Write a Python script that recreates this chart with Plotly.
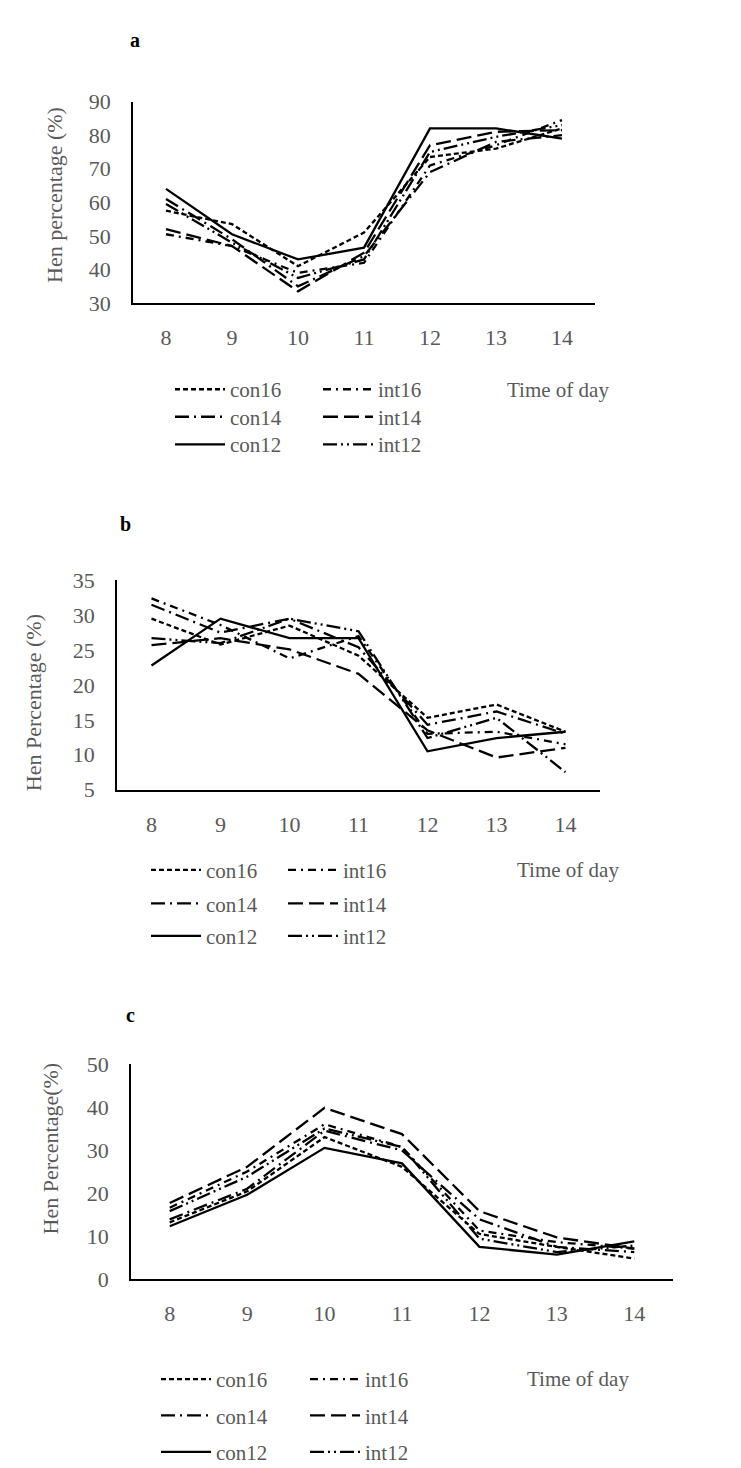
import plotly.graph_objects as go

W, H = 741, 1468

hours = [8, 9, 10, 11, 12, 13, 14]
series_names = ["con16", "int16", "con14", "int14", "con12", "int12"]

# Panel a
a_con16 = [57.5, 53.5, 41.0, 51.0, 73.5, 76.0, 82.0]
a_int16 = [50.5, 47.0, 39.0, 42.0, 71.0, 77.0, 84.5]
a_con14 = [61.0, 49.0, 35.0, 44.0, 69.0, 78.0, 80.0]
a_int14 = [52.0, 47.0, 33.5, 45.0, 77.0, 81.0, 81.5]
a_con12 = [64.0, 50.5, 43.0, 46.5, 82.0, 82.0, 79.0]
a_int12 = [59.5, 48.0, 37.5, 43.0, 75.0, 79.5, 83.0]

# Panel b
b_con16 = [29.5, 25.8, 28.5, 24.2, 15.3, 17.2, 13.3]
b_int16 = [32.4, 28.6, 23.8, 27.0, 13.0, 13.3, 11.5]
b_con14 = [31.5, 27.5, 29.5, 25.4, 14.3, 16.2, 13.0]
b_int14 = [25.7, 26.7, 25.1, 21.6, 13.5, 9.6, 11.0]
b_con12 = [22.8, 29.5, 26.7, 26.7, 10.5, 12.4, 13.3]
b_int12 = [26.7, 26.0, 29.5, 27.7, 12.4, 15.3, 7.5]

# Panel c
c_con16 = [13.2, 20.4, 33.0, 26.1, 10.5, 7.5, 4.8]
c_int16 = [16.6, 25.0, 36.0, 30.7, 11.3, 8.6, 7.1]
c_con14 = [13.9, 21.0, 34.5, 29.9, 13.9, 7.5, 6.3]
c_int14 = [17.7, 26.1, 39.8, 33.7, 15.8, 9.7, 7.1]
c_con12 = [12.3, 19.6, 30.5, 26.9, 7.5, 5.7, 8.8]
c_int12 = [15.8, 23.8, 35.0, 30.7, 9.4, 6.3, 7.8]

panels = {
    "a": [a_con16, a_int16, a_con14, a_int14, a_con12, a_int12],
    "b": [b_con16, b_int16, b_con14, b_int14, b_con12, b_int12],
    "c": [c_con16, c_int16, c_con14, c_int14, c_con12, c_int12],
}

y_ranges = {"a": [30, 90, 10], "b": [5, 35, 5], "c": [0, 50, 10]}
y_titles = {"a": "Hen percentage (%)", "b": "Hen Percentage (%)", "c": "Hen Percentage(%)"}

# ---- styling / layout (pixel geometry) ----
dashes = {
    "con16": "5px,3px",
    "int16": "8px,5px,2px,5px",
    "con14": "14px,5px,2px,5px",
    "int14": "15px,6px",
    "con12": "solid",
    "int12": "14px,4px,2px,4px,2px,4px",
}
FONT = "Liberation Serif, Times New Roman, serif"
GRAY = "#595959"

geom = {
    # x0, x1, ytop, ybottom of plot area
    "a": dict(x0=125, x1=587, yt=83, yb=288),
    "b": dict(x0=109, x1=592, yt=570, yb=783),
    "c": dict(x0=123, x1=665, yt=1062, yb=1281),
}
letters = {"a": (127, 20), "b": (117, 513), "c": (122, 1012)}
ytitle_pos = {"a": (47, 178), "b": (25, 695), "c": (42, 1148)}
legend_geom = {
    # col1 line start, col2 line start, rows y
    "a": dict(c1=167, c2=315, rows=[376, 404, 432]),
    "b": dict(c1=143, c2=280, rows=[865, 899, 932]),
    "c": dict(c1=153, c2=302, rows=[1383, 1420, 1457]),
}
timeofday_pos = {"a": (497, 376), "b": (507, 865), "c": (517, 1383)}


def fx(px):
    return px / W


def fy(py):
    return 1 - py / H


fig = go.Figure()
layout = dict(
    width=W, height=H, autosize=False,
    margin=dict(l=0, r=0, t=0, b=0),
    paper_bgcolor="white", plot_bgcolor="white",
    showlegend=True,
    font=dict(family=FONT, color=GRAY, size=21),
    annotations=[],
)

leg_idx = 0
for i, key in enumerate(["a", "b", "c"]):
    g = geom[key]
    suffix = "" if i == 0 else str(i + 1)
    xa, ya = "x" + suffix, "y" + suffix
    lo, hi, dt = y_ranges[key]
    layout["xaxis" + suffix] = dict(
        domain=[fx(g["x0"]), fx(g["x1"])], anchor=ya,
        range=[7.5, 14.5], tickvals=hours, ticktext=[str(h) for h in hours],
        showline=True, linecolor="black", linewidth=1.5, mirror=False,
        showgrid=False, zeroline=False, ticks="",
        tickfont=dict(family=FONT, size=22, color=GRAY),
        ticklabelstandoff=14, fixedrange=True,
    )
    layout["yaxis" + suffix] = dict(
        domain=[fy(g["yb"]), fy(g["yt"])], anchor=xa,
        range=[lo, hi], dtick=dt, tick0=lo,
        showline=True, linecolor="black", linewidth=1.5,
        showgrid=False, zeroline=False, ticks="",
        tickfont=dict(family=FONT, size=22, color=GRAY),
        ticklabelstandoff=16, fixedrange=True,
    )
    lg = legend_geom[key]
    for j, name in enumerate(series_names):
        leg_idx += 1
        lname = "legend" if leg_idx == 1 else "legend" + str(leg_idx)
        col = j % 2
        row = j // 2
        lx = lg["c1"] if col == 0 else lg["c2"]
        ly = lg["rows"][row]
        layout[lname] = dict(
            x=fx(lx - 5), y=fy(ly), xanchor="left", yanchor="middle",
            bgcolor="rgba(0,0,0,0)", borderwidth=0,
            font=dict(family=FONT, size=21, color=GRAY),
            itemwidth=50, itemclick=False, itemdoubleclick=False,
            tracegroupgap=0,
        )
        fig.add_trace(go.Scatter(
            x=hours, y=panels[key][j], name=name, mode="lines",
            line=dict(color="black", width=2.3, dash=dashes[name]),
            xaxis=xa, yaxis=ya, legend=lname, hoverinfo="skip",
        ))
    # panel letter
    lx, ly = letters[key]
    layout["annotations"].append(dict(
        text="<b>%s</b>" % key, x=fx(lx), y=fy(ly), xref="paper", yref="paper",
        showarrow=False, xanchor="center", yanchor="middle",
        font=dict(family=FONT, size=20, color="black"),
    ))
    tx, ty = ytitle_pos[key]
    layout["annotations"].append(dict(
        text=y_titles[key], x=fx(tx), y=fy(ty), xref="paper", yref="paper",
        showarrow=False, xanchor="center", yanchor="middle", textangle=-90,
        font=dict(family=FONT, size=22, color=GRAY),
    ))
    tx, ty = timeofday_pos[key]
    layout["annotations"].append(dict(
        text="Time of day", x=fx(tx), y=fy(ty), xref="paper", yref="paper",
        showarrow=False, xanchor="left", yanchor="middle",
        font=dict(family=FONT, size=21, color=GRAY),
    ))

fig.update_layout(**layout)
fig.write_html("out.html")
